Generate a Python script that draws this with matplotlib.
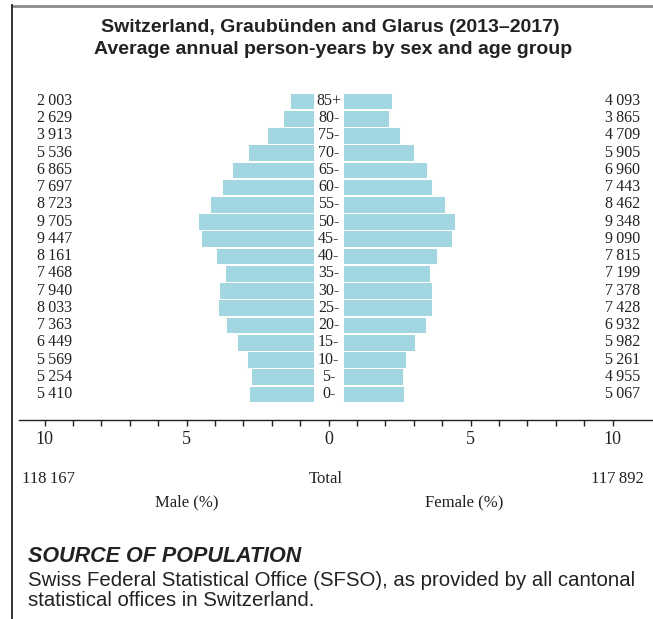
'''
Population pyramid: Switzerland, Graubuenden and Glarus (2013-2017).
'''

import matplotlib.pyplot as plt
import numpy as np
from matplotlib.lines import Line2D

# Age groups from oldest (top) to youngest (bottom)
age_groups = ['85+', '80-', '75-', '70-', '65-', '60-', '55-', '50-', '45-',
              '40-', '35-', '30-', '25-', '20-', '15-', '10-', '5-', '0-']

# Average annual person-years
male_counts = [2003, 2629, 3913, 5536, 6865, 7697, 8723, 9705, 9447,
               8161, 7468, 7940, 8033, 7363, 6449, 5569, 5254, 5410]
female_counts = [4093, 3865, 4709, 5905, 6960, 7443, 8462, 9348, 9090,
                 7815, 7199, 7378, 7428, 6932, 5982, 5261, 4955, 5067]

male_total = 118167
female_total = 117892

tick_values = [-10, -5, 0, 5, 10]
tick_labels = ['10', '5', '0', '5', '10']

BAR_COLOR = '#a2d7e2'
TEXT_COLOR = '#222222'
SERIF = ['Liberation Serif', 'DejaVu Serif']
SANS = ['Liberation Sans', 'DejaVu Sans']


def fmt(n):
    return f'{n:,}'.replace(',', '\u2009')


def main() -> None:
    W, H = 653, 619
    fig = plt.figure(figsize=(W / 100, H / 100), dpi=100)

    # Axes geometry in pixels
    ax_left, ax_right = 19, 653
    ax_top, ax_bottom = 85, 420
    ax = fig.add_axes([ax_left / W, 1 - ax_bottom / H,
                       (ax_right - ax_left) / W, (ax_bottom - ax_top) / H])

    grand_total = male_total + female_total
    male_pct = np.array(male_counts) / grand_total * 100
    female_pct = np.array(female_counts) / grand_total * 100

    y = np.arange(len(age_groups))[::-1]
    offset = 0.5

    ax.barh(y, -male_pct, left=-offset, height=0.97, color=BAR_COLOR,
            edgecolor='white', linewidth=0.7)
    ax.barh(y, female_pct, left=offset, height=0.97, color=BAR_COLOR,
            edgecolor='white', linewidth=0.7)

    # Labels: age groups in the middle, counts at the sides
    for yi, age, m, f in zip(y, age_groups, male_counts, female_counts):
        ax.text(0, yi, age, ha='center', va='center', fontsize=11.5,
                family=SERIF, color=TEXT_COLOR)
        ax.text(-9.04, yi, fmt(m), ha='right', va='center', fontsize=11.5,
                family=SERIF, color=TEXT_COLOR)
        ax.text(10.96, yi, fmt(f), ha='right', va='center', fontsize=11.5,
                family=SERIF, color=TEXT_COLOR)

    # Scale: 28.4 px per unit, zero at 328.7 px
    px_per_unit = 28.4
    zero_px = 328.7
    ax.set_xlim((ax_left - zero_px) / px_per_unit,
                (ax_right - zero_px) / px_per_unit)
    row_px = 17.24
    y0_px = 394
    ax.set_ylim((y0_px - ax_bottom) / row_px, (y0_px - ax_top) / row_px)

    for side in ['top', 'right', 'left']:
        ax.spines[side].set_visible(False)
    ax.spines['bottom'].set_color(TEXT_COLOR)
    ax.spines['bottom'].set_linewidth(1.0)
    ax.set_yticks([])
    ax.set_xticks(tick_values)
    ax.set_xticklabels(tick_labels, family=SERIF, fontsize=13,
                       color=TEXT_COLOR)
    ax.set_xticks(np.arange(-10, 11), minor=True)
    ax.tick_params(axis='x', which='both', length=4, width=1,
                   color=TEXT_COLOR, pad=4)

    # Totals and axis captions
    fig.text(22 / W, 1 - 479 / H, fmt(male_total), ha='left', va='center',
             fontsize=12, family=SERIF, color=TEXT_COLOR)
    fig.text(326 / W, 1 - 479 / H, 'Total', ha='center', va='center',
             fontsize=12, family=SERIF, color=TEXT_COLOR)
    fig.text(644 / W, 1 - 479 / H, fmt(female_total), ha='right',
             va='center', fontsize=12, family=SERIF, color=TEXT_COLOR)
    fig.text(187 / W, 1 - 502 / H, 'Male (%)', ha='center', va='center',
             fontsize=12, family=SERIF, color=TEXT_COLOR)
    fig.text(464 / W, 1 - 502 / H, 'Female (%)', ha='center', va='center',
             fontsize=12, family=SERIF, color=TEXT_COLOR)

    # Title
    fig.text(330 / W, 1 - 27 / H,
             'Switzerland, Graubünden and Glarus (2013\u20132017)',
             ha='center', va='center', fontsize=14, fontweight='bold',
             family=SANS, color=TEXT_COLOR)
    fig.text(333 / W, 1 - 50 / H,
             'Average annual person-years by sex and age group',
             ha='center', va='center', fontsize=14, fontweight='bold',
             family=SANS, color=TEXT_COLOR)

    # Source note
    fig.text(28 / W, 1 - 557 / H, 'SOURCE OF POPULATION', ha='left',
             va='center', fontsize=15.5, fontweight='bold', style='italic',
             family=SANS, color=TEXT_COLOR)
    fig.text(28 / W, 1 - 580 / H,
             'Swiss Federal Statistical Office (SFSO), as provided by all '
             'cantonal', ha='left', va='center', fontsize=14.7,
             family=SANS, color=TEXT_COLOR)
    fig.text(28 / W, 1 - 601 / H, 'statistical offices in Switzerland.',
             ha='left', va='center', fontsize=14.7, family=SANS,
             color=TEXT_COLOR)

    # Frame: grey top rule and black left rule
    fig.add_artist(Line2D([12 / W, 1], [1 - 6 / H, 1 - 6 / H],
                          color='#8c8c8c', linewidth=2))
    fig.add_artist(Line2D([12 / W, 12 / W], [1 - 5 / H, 0],
                          color=TEXT_COLOR, linewidth=1.3))

    fig.savefig('out.png', dpi=100)
    plt.close(fig)


if __name__ == '__main__':
    main()
